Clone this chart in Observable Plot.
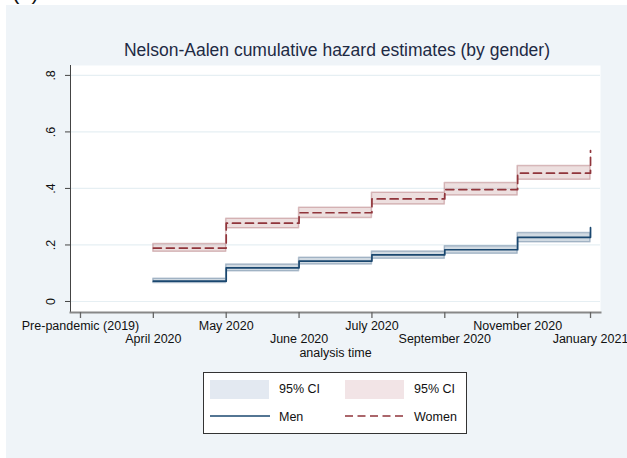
<!DOCTYPE html>
<html><head><meta charset="utf-8">
<script src="https://cdn.jsdelivr.net/npm/d3@7"></script>
<script src="https://cdn.jsdelivr.net/npm/@observablehq/plot@0.6"></script>
<style>
body{margin:0;background:#fff;font-family:"Liberation Sans",Arial,sans-serif;}
#wrap{position:relative;width:627px;height:458px;overflow:hidden;background:#fff;}
#bg{position:absolute;left:6px;top:5px;right:0;bottom:0;background:#eff4f8;}
#tag{position:absolute;left:12px;top:-18.6px;font-size:22px;line-height:22px;color:#111;}
#title{position:absolute;left:0;width:627px;top:40px;text-align:center;font-size:17.5px;line-height:20px;color:#1e2a44;padding-left:47px;box-sizing:border-box;}
#chart{position:absolute;left:0;top:0;}
#legend{position:absolute;left:203px;top:372px;width:262px;height:60px;background:#fff;border:1px solid #333;font-size:12.5px;color:#111;}
.sw{position:absolute;width:59px;height:19px;}
.lt{position:absolute;line-height:14px;}
.ln{position:absolute;}
</style>
</head><body>
<div id="wrap">
  <div id="bg"></div>
  <div id="tag">(a)</div>
  <div id="title"></div>
  <div id="chart"></div>
  <div id="legend"></div>
</div>
<script>
const chartTitle = "Nelson-Aalen cumulative hazard estimates (by gender)";
const xAxisLabel = "analysis time";
const timeLabels = ["Pre-pandemic (2019)","April 2020","May 2020","June 2020","July 2020","September 2020","November 2020","January 2021"];
const yTicks = [0, 0.2, 0.4, 0.6, 0.8];
const times = [1, 2, 3, 4, 5, 6, 7];
const menHazard   = [0.072, 0.119, 0.143, 0.165, 0.183, 0.227, 0.261];
const menLower    = [0.065, 0.107, 0.131, 0.151, 0.169, 0.210, 0.210];
const menUpper    = [0.080, 0.131, 0.155, 0.177, 0.195, 0.242, 0.242];
const womenHazard = [0.189, 0.277, 0.314, 0.363, 0.396, 0.454, 0.534];
const womenLower  = [0.176, 0.259, 0.295, 0.343, 0.375, 0.431, 0.431];
const womenUpper  = [0.203, 0.293, 0.332, 0.385, 0.419, 0.479, 0.479];
const legendItems = [
  {label:"95% CI", kind:"ci", color:"#e3e9f1"},
  {label:"95% CI", kind:"ci", color:"#f2e4e6"},
  {label:"Men", kind:"line", color:"#1a476f", dash:null},
  {label:"Women", kind:"line", color:"#90353b", dash:"8,4.5"}
];

const MEN = "#1a476f", WOMEN = "#90353b";
const men = times.map((t,i)=>({t, h:menHazard[i], lo:menLower[i], hi:menUpper[i]}));
const women = times.map((t,i)=>({t, h:womenHazard[i], lo:womenLower[i], hi:womenUpper[i]}));
const xl = timeLabels.map((l,i)=>({i, l}));
const fmt = d => d === 0 ? "0" : String(d).replace(/^0/, "");

document.getElementById("title").textContent = chartTitle;

const plot = Plot.plot({
  width: 627, height: 370,
  marginLeft: 70, marginRight: 27, marginTop: 65, marginBottom: 58,
  style: {background: "transparent", fontFamily: "Liberation Sans, Arial, sans-serif", overflow: "visible"},
  x: {domain: [-0.137, 7.137], axis: null},
  y: {domain: [-0.039, 0.835], axis: null},
  marks: [
    Plot.frame({fill: "white", stroke: "none"}),
    Plot.ruleY(yTicks, {stroke: "#e6eff3", strokeWidth: 1.2}),
    Plot.areaY(men, {x: "t", y1: "lo", y2: "hi", curve: "step-after", fill: MEN, fillOpacity: 0.2, stroke: MEN, strokeOpacity: 0.3, strokeWidth: 1.5}),
    Plot.areaY(women, {x: "t", y1: "lo", y2: "hi", curve: "step-after", fill: WOMEN, fillOpacity: 0.16, stroke: WOMEN, strokeOpacity: 0.3, strokeWidth: 1.5}),
    Plot.line(men, {x: "t", y: "h", curve: "step-after", stroke: MEN, strokeWidth: 1.7}),
    Plot.line(women, {x: "t", y: "h", curve: "step-after", stroke: WOMEN, strokeWidth: 1.7, strokeDasharray: "8,5"}),
    Plot.frame({anchor: "left", stroke: "#444", strokeWidth: 1}),
    Plot.frame({anchor: "bottom", stroke: "#888", strokeWidth: 2}),
    Plot.axisY({ticks: yTicks, tickSize: 5, tickFormat: () => "", label: null, stroke: "#444"}),
    Plot.axisX({ticks: d3.range(timeLabels.length), tickSize: 6, tickFormat: () => "", label: null, stroke: "#666", strokeWidth: 1.3}),
    Plot.text(yTicks, {y: d => d, text: fmt, frameAnchor: "left", dx: -16, rotate: -90, textAnchor: "middle", lineAnchor: "bottom", fontSize: 12.5, fill: "#111"}),
    Plot.text(xl, {filter: d => d.i % 2 === 0, x: "i", text: "l", frameAnchor: "bottom", lineAnchor: "top", dy: 9, fontSize: 12.5, fill: "#111"}),
    Plot.text(xl, {filter: d => d.i % 2 === 1, x: "i", text: "l", frameAnchor: "bottom", lineAnchor: "top", dy: 22, fontSize: 12.5, fill: "#111"}),
    Plot.text([xAxisLabel], {frameAnchor: "bottom", lineAnchor: "top", dy: 36, fontSize: 12.5, fill: "#111"})
  ]
});
document.getElementById("chart").appendChild(plot);

const lg = document.getElementById("legend");
const pos = [[6, 7], [141, 7], [6, 35], [141, 35]];
legendItems.forEach((it, k) => {
  const [x, y] = pos[k];
  if (it.kind === "ci") {
    const s = document.createElement("div"); s.className = "sw";
    s.style.left = x + "px"; s.style.top = y + "px"; s.style.background = it.color;
    lg.appendChild(s);
  } else {
    const ns = "http://www.w3.org/2000/svg";
    const s = document.createElementNS(ns, "svg");
    s.setAttribute("class", "ln"); s.setAttribute("width", 60); s.setAttribute("height", 6);
    s.style.left = x + "px"; s.style.top = (y + 5) + "px";
    const l = document.createElementNS(ns, "line");
    l.setAttribute("x1", 0); l.setAttribute("x2", 60); l.setAttribute("y1", 3); l.setAttribute("y2", 3);
    l.setAttribute("stroke", it.color); l.setAttribute("stroke-width", 1.7);
    if (it.dash) l.setAttribute("stroke-dasharray", it.dash);
    s.appendChild(l); lg.appendChild(s);
  }
  const t = document.createElement("div"); t.className = "lt";
  t.textContent = it.label; t.style.left = (x + 69) + "px"; t.style.top = (y + 2) + "px";
  lg.appendChild(t);
});
</script>
</body></html>
